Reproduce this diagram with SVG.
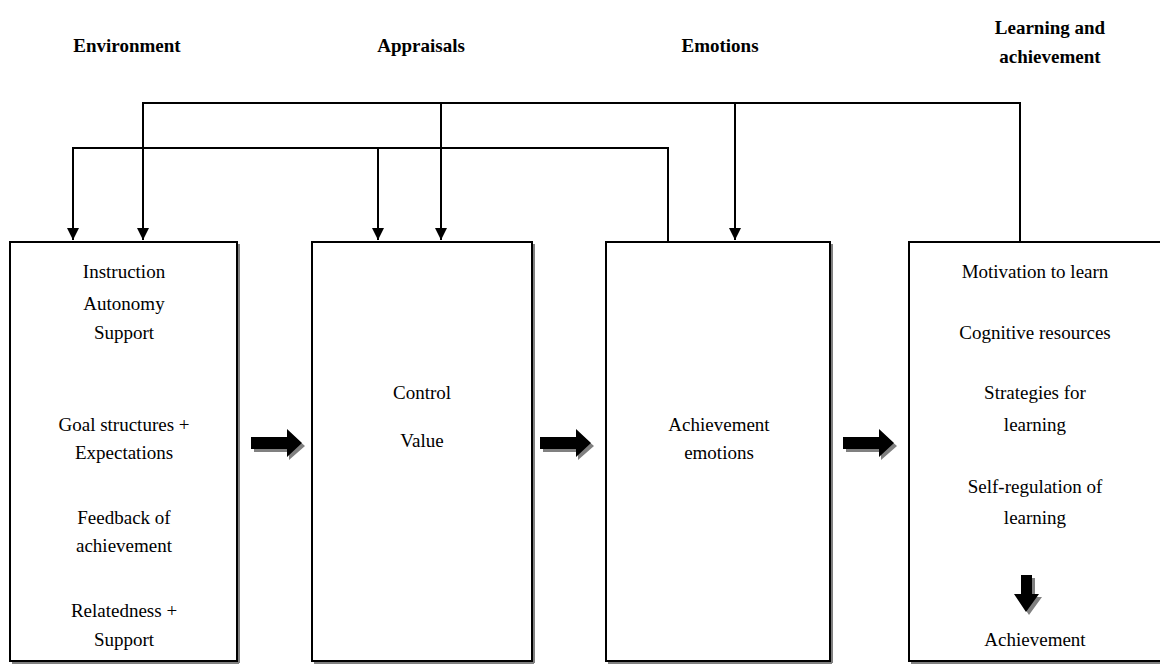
<svg xmlns="http://www.w3.org/2000/svg" width="1160" height="664" viewBox="0 0 1160 664">
  <style>
    .head { font-family: "Liberation Serif", "Times New Roman", serif; font-size: 19px; font-weight: bold; text-anchor: middle; fill: #000; }
    .lbl { font-family: "Liberation Serif", "Times New Roman", serif; font-size: 19px; text-anchor: middle; fill: #000; }
    .box { fill: #fff; stroke: #000; stroke-width: 2; }
    .shadow { fill: none; stroke: #808080; stroke-width: 2; }
    .link { fill: none; stroke: #000; stroke-width: 2; }
    .blk { fill: #000; }
    .blkshadow { fill: #808080; }
  </style>
  <defs>
    <marker id="tri" viewBox="0 0 10 10" refX="10" refY="5" markerWidth="6" markerHeight="6" markerUnits="strokeWidth" orient="auto">
      <path d="M0,0 L10,5 L0,10 Z" fill="#000"/>
    </marker>
    <g id="rightArrow">
      <path class="blkshadow" d="M3,-3 L38,-3 L38,-11 L54,3 L38,17 L38,9 L3,9 Z"/>
      <path class="blk" d="M0,-6 L36,-6 L36,-14 L51,0 L36,14 L36,6 L0,6 Z"/>
    </g>
  </defs>

  <rect width="1160" height="664" fill="#fff"/>

  <!-- column headings -->
  <g id="headings">
    <text class="head" x="127" y="52">Environment</text>
    <text class="head" x="421" y="52">Appraisals</text>
    <text class="head" x="720" y="52">Emotions</text>
    <text class="head" x="1050" y="34">Learning and</text>
    <text class="head" x="1050" y="63">achievement</text>
  </g>

  <!-- feedback connectors -->
  <g id="connectors">
    <path class="link" d="M1020,242 L1020,103 L143,103 L143,240" marker-end="url(#tri)"/>
    <path class="link" d="M441,103 L441,240" marker-end="url(#tri)"/>
    <path class="link" d="M735,103 L735,240" marker-end="url(#tri)"/>
    <path class="link" d="M668,242 L668,148 L73,148 L73,240" marker-end="url(#tri)"/>
    <path class="link" d="M378,148 L378,240" marker-end="url(#tri)"/>
  </g>

  <!-- environment -->
  <g id="environment">
    <path class="shadow" d="M239,244 L239,663 M12,663 L239,663"/>
    <rect class="box" x="10" y="242" width="227" height="419"/>
    <text class="lbl" x="124" y="278">Instruction</text>
    <text class="lbl" x="124" y="310">Autonomy</text>
    <text class="lbl" x="124" y="339">Support</text>
    <text class="lbl" x="124" y="431">Goal structures +</text>
    <text class="lbl" x="124" y="459">Expectations</text>
    <text class="lbl" x="124" y="524">Feedback of</text>
    <text class="lbl" x="124" y="552">achievement</text>
    <text class="lbl" x="124" y="617">Relatedness +</text>
    <text class="lbl" x="124" y="646">Support</text>
  </g>

  <!-- appraisals -->
  <g id="appraisals">
    <path class="shadow" d="M534,244 L534,663 M314,663 L534,663"/>
    <rect class="box" x="312" y="242" width="220" height="419"/>
    <text class="lbl" x="422" y="399">Control</text>
    <text class="lbl" x="422" y="447">Value</text>
  </g>

  <!-- emotions -->
  <g id="emotions">
    <path class="shadow" d="M832,244 L832,663 M608,663 L832,663"/>
    <rect class="box" x="606" y="242" width="224" height="419"/>
    <text class="lbl" x="719" y="431">Achievement</text>
    <text class="lbl" x="719" y="459">emotions</text>
  </g>

  <!-- learning and achievement -->
  <g id="learning">
    <path class="shadow" d="M911,663 L1160,663"/>
    <rect class="box" x="909" y="242" width="260" height="419"/>
    <text class="lbl" x="1035" y="278">Motivation to learn</text>
    <text class="lbl" x="1035" y="339">Cognitive resources</text>
    <text class="lbl" x="1035" y="399">Strategies for</text>
    <text class="lbl" x="1035" y="431">learning</text>
    <text class="lbl" x="1035" y="493">Self-regulation of</text>
    <text class="lbl" x="1035" y="524">learning</text>
    <text class="lbl" x="1035" y="646">Achievement</text>
    <path class="blkshadow" d="M1024,578 L1035,578 L1035,597 L1042,597 L1029,615 L1017,597 L1024,597 Z"/>
    <path class="blk" d="M1021,575 L1032,575 L1032,594 L1039,594 L1026,612 L1014,594 L1021,594 Z"/>
  </g>

  <!-- forward block arrows -->
  <g id="flow">
    <use href="#rightArrow" x="251" y="443"/>
    <use href="#rightArrow" x="540" y="443"/>
    <use href="#rightArrow" x="843" y="443"/>
  </g>
</svg>
